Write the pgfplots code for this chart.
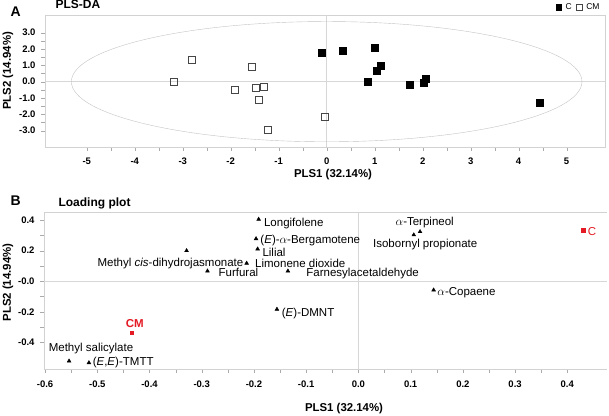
\documentclass[border=0pt]{standalone}
\usepackage{pgfplots}
\pgfplotsset{compat=1.18}
\usepackage{fontspec}
\setmainfont{Liberation Sans}

\definecolor{framegray}{RGB}{210,210,210}
\definecolor{tickgray}{RGB}{170,170,170}
\definecolor{zerogray}{RGB}{215,215,215}
\definecolor{ellgray}{RGB}{195,195,195}
\definecolor{plred}{RGB}{228,26,36}
\definecolor{opengray}{RGB}{70,70,70}

\begin{document}
\begin{tikzpicture}[
  lab/.style={font=\fontsize{11.5}{13}\selectfont, inner sep=0pt},
  axlab/.style={font=\fontsize{11.4}{13}\selectfont\bfseries},
]
\path[use as bounding box] (0,0) rectangle (609pt,415pt);

% panel A: scores
\begin{axis}[
  at={(45pt,268pt)}, anchor=south west, scale only axis,
  width=560pt, height=132pt,
  xmin=-5.87, xmax=5.80, ymin=-4.0, ymax=4.08,
  axis line style={framegray},
  tick style={tickgray},
  tick align=outside, tick pos=left,
  major tick length=4pt, minor tick length=4pt,
  xtick={-5,-4,-3,-2,-1,0,1,2,3,4,5},
  xticklabels={-5,-4,-3,-2,-1,0,1,2,3,4,5},
  minor x tick num=1,
  ytick={-3,-2,-1,0,1,2,3},
  yticklabels={-3.0,-2.0,-1.0,0.0,1.0,2.0,3.0},
  minor y tick num=1,
  ticklabel style={font=\fontsize{9.5}{10}\selectfont\bfseries},
  xticklabel style={yshift=-3pt},
  yticklabel style={xshift=-2pt},
  legend style={draw=none, fill=none, at={(rel axis cs:0.995,1.01)}, anchor=south east,
    font=\fontsize{8.5}{9}\selectfont, inner sep=0.5pt,
    /tikz/every even column/.append style={column sep=3pt},
    /tikz/every odd column/.append style={column sep=2pt}},
  legend image post style={mark size=2.8pt},
  legend columns=2,
]
\draw[zerogray] (axis cs:0,-4.0) -- (axis cs:0,4.08);
\draw[zerogray] (axis cs:-5.87,0) -- (axis cs:5.80,0);
\draw[ellgray] (axis cs:0,0) ellipse [x radius=5.32, y radius=3.68];

\addplot[only marks, mark=square*, mark size=3.5pt, black] coordinates {
(-0.11,1.80) (0.34,1.92) (1.00,2.07) (1.12,0.96) (1.05,0.67)
(0.86,0.00) (1.72,-0.20) (2.02,-0.06) (2.07,0.18) (4.43,-1.27)
};
\addlegendentry{C}
\addplot[only marks, mark=square, mark size=3.5pt, opengray,
  mark options={fill=white, line width=0.8pt}] coordinates {
(-3.18,0.00) (-2.80,1.35) (-1.92,-0.53) (-1.56,0.92) (-1.47,-0.41)
(-1.31,-0.30) (-1.41,-1.12) (-1.23,-2.98) (-0.04,-2.17)
};
\addlegendentry{CM}
\end{axis}

% panel B: loadings
\begin{axis}[
  at={(44pt,46pt)}, anchor=south west, scale only axis,
  width=563pt, height=156.3pt,
  xmin=-0.602, xmax=0.476, ymin=-0.573, ymax=0.448,
  axis x line*=bottom, axis y line*=left,
  axis line style={framegray,-},
  tick style={tickgray},
  tick align=outside,
  major tick length=4pt, minor tick length=4pt,
  xtick={-0.6,-0.5,-0.4,-0.3,-0.2,-0.1,0,0.1,0.2,0.3,0.4},
  xticklabels={-0.6,-0.5,-0.4,-0.3,-0.2,-0.1,0.0,0.1,0.2,0.3,0.4},
  minor x tick num=1,
  ytick={-0.4,-0.2,0,0.2,0.4},
  yticklabels={-0.4,-0.2,-0.0,0.2,0.4},
  minor y tick num=1,
  ticklabel style={font=\fontsize{9.5}{10}\selectfont\bfseries},
  xticklabel style={yshift=-4pt},
  yticklabel style={xshift=-2pt},
]
\draw[framegray] (rel axis cs:0,1) -- (rel axis cs:1,1);
\draw[zerogray] (axis cs:0,-0.573) -- (axis cs:0,0.448);
\draw[zerogray] (axis cs:-0.602,0) -- (axis cs:0.476,0);

\addplot[only marks, mark=triangle*, mark size=2.2pt, black] coordinates {
(-0.191,0.405) (-0.196,0.278) (-0.193,0.211) (-0.329,0.200)
(-0.214,0.118) (-0.289,0.067) (-0.135,0.067) (-0.156,-0.183)
(-0.554,-0.521) (-0.516,-0.532) (0.118,0.324) (0.106,0.303)
(0.144,-0.057)
};
\addplot[only marks, mark=square*, mark size=1.8pt, plred] coordinates {
(-0.434,-0.336) (0.430,0.333)
};

\node[lab, anchor=base west] at (axis cs:-0.181,0.361) {Longifolene};
\node[lab, anchor=base west] at (axis cs:-0.188,0.246) {(\textit{E})-$\alpha$-Bergamotene};
\node[lab, anchor=base west] at (axis cs:-0.184,0.161) {Lilial};
\node[lab, anchor=base east] at (axis cs:-0.220,0.095) {Methyl \textit{cis}-dihydrojasmonate};
\node[lab, anchor=base west] at (axis cs:-0.198,0.089) {Limonene dioxide};
\node[lab, anchor=base west] at (axis cs:-0.268,0.030) {Furfural};
\node[lab, anchor=base west] at (axis cs:-0.100,0.030) {Farnesylacetaldehyde};
\node[lab, anchor=base west] at (axis cs:-0.147,-0.227) {(\textit{E})-DMNT};
\node[lab, anchor=base] at (axis cs:0.127,0.365) {$\alpha$-Terpineol};
\node[lab, anchor=base] at (axis cs:0.128,0.222) {Isobornyl propionate};
\node[lab, anchor=base west] at (axis cs:0.151,-0.096) {$\alpha$-Copaene};
\node[lab, anchor=base] at (axis cs:-0.512,-0.458) {Methyl salicylate};
\node[lab, anchor=base west] at (axis cs:-0.509,-0.550) {(\textit{E},\textit{E})-TMTT};
\node[lab, anchor=base west, text=plred] at (axis cs:0.439,0.296) {C};
\node[lab, anchor=base, text=plred, font=\fontsize{11.5}{13}\selectfont\bfseries] at (axis cs:-0.428,-0.299) {CM};
\end{axis}

% titles and axis labels
\node[anchor=base west, font=\fontsize{14}{16}\selectfont\bfseries] at (7pt,398pt) {A};
\node[anchor=base west, font=\fontsize{12}{14}\selectfont\bfseries] at (52pt,406pt) {PLS-DA};
\node[anchor=base west, font=\fontsize{14}{16}\selectfont\bfseries] at (7pt,209pt) {B};
\node[anchor=base west, font=\fontsize{12}{14}\selectfont\bfseries] at (55pt,208pt) {Loading plot};
\node[axlab, anchor=base] at (333pt,237pt) {PLS1 (32.14\%)};
\node[axlab, anchor=base] at (344pt,4pt) {PLS1 (32.14\%)};
\node[axlab, rotate=90] at (8pt,344pt) {PLS2 (14.94\%)};
\node[axlab, rotate=90] at (8pt,132.5pt) {PLS2 (14.94\%)};
\end{tikzpicture}
\end{document}
